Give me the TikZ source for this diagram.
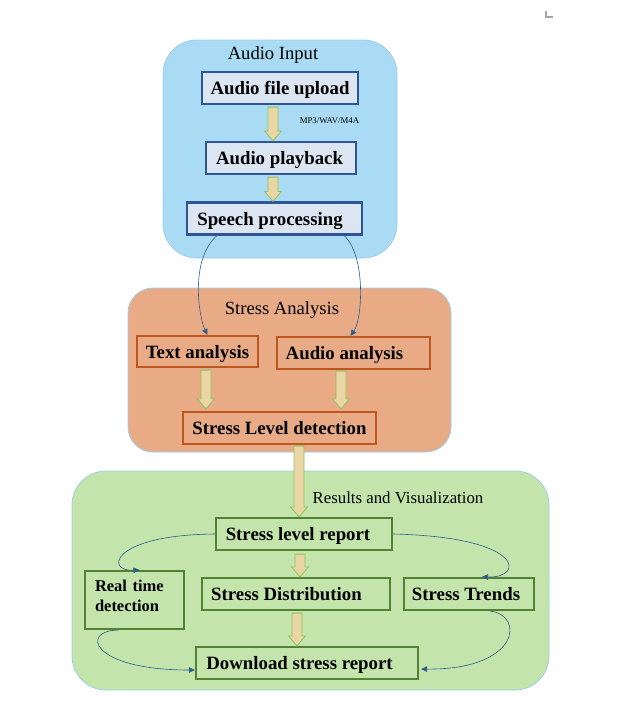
\documentclass[tikz,border=0pt]{standalone}
\usepackage{fontspec}
\setmainfont{Liberation Serif}
\usetikzlibrary{calc,arrows.meta}
\definecolor{cblue}{HTML}{A9DBF4}
\definecolor{cblueline}{HTML}{9CCFEA}
\definecolor{corange}{HTML}{E8AB86}
\definecolor{cgreen}{HTML}{C3E4AB}
\definecolor{nblue}{HTML}{DCE6F2}
\definecolor{bblue}{HTML}{2F5597}
\definecolor{borange}{HTML}{C0561F}
\definecolor{bgreen}{HTML}{548235}
\definecolor{arrfill}{HTML}{E9D6A4}
\definecolor{arrline}{HTML}{8DC460}
\definecolor{link}{HTML}{2E5E8C}
\tikzset{
  x=1pt,y=-1pt,
  box/.style={draw, line width=2.2pt, font=\bfseries\fontsize{18.8}{20}\selectfont, inner sep=0pt, minimum height=32pt, text height=15pt, text depth=2pt},
  bluebox/.style={box, draw=bblue, fill=nblue},
  orangebox/.style={box, draw=borange, fill=corange},
  greenbox/.style={box, draw=bgreen, fill=cgreen},
  title/.style={font=\fontsize{18.6}{20}\selectfont},
  barrow/.style={draw=arrline, fill=arrfill, line width=0.8pt,
    to path={let \p1=(\tikztostart), \p2=(\tikztotarget) in
      (\x1-5pt,\y1) -- (\x1+5pt,\y1) -- (\x1+5pt,\y2+10pt) -- (\x1+8.5pt,\y2+10pt)
      -- (\x1,\y2) -- (\x1-8.5pt,\y2+10pt) -- (\x1-5pt,\y2+10pt) -- cycle}},
  link/.style={draw=link, line width=0.6pt, -{Triangle[length=6pt,width=5.5pt]}}
}
\begin{document}
\begin{tikzpicture}
\useasboundingbox (0,0) rectangle (622,726);
\fill[white] (0,0) rectangle (622,726);
% corner mark
\draw[gray!70, line width=1.5pt] (546,11) -- (546,17) -- (553,17);
% containers
\draw[fill=cblue, draw=cblueline, line width=0.8pt, rounded corners=34pt] (163,40) rectangle (397,258);
\draw[fill=corange, draw=cblueline, line width=0.8pt, rounded corners=25pt] (128,288) rectangle (451,452);
\draw[fill=cgreen, draw=cblueline, line width=0.8pt, rounded corners=34pt] (72,471) rectangle (549,690);
% titles
\node[title] (tin) at (273,55) {Audio Input};
\node[title] (tsa) at (282,310) {Stress Analysis};
\node[font=\fontsize{16.8}{18}\selectfont] (trv) at (398,498) {Results and Visualization};
% blue nodes
\node[bluebox, minimum width=156pt] (up) at (280,88) {Audio file upload};
\node[bluebox, minimum width=150pt] (pb) at (281,158) {Audio playback\hspace*{3pt}};
\node[bluebox, minimum width=175pt] (sp) at (274.5,218.5) {Speech processing\hspace*{9pt}};
\node[font=\fontsize{8.8}{9}\selectfont] (fmt) at (329.5,121) {MP3/WAV/M4A};
% orange nodes
\node[orangebox, minimum width=121pt, minimum height=31pt] (ta) at (197.5,351.5) {Text analysis};
\node[orangebox, minimum width=153pt] (aa) at (353.5,353) {Audio analysis\hspace*{18pt}};
\node[orangebox, minimum width=193pt] (sld) at (279.5,428) {Stress Level detection};
% green nodes
\node[greenbox, minimum width=176pt] (srl) at (304,534) {Stress level report\hspace*{12pt}};
\node[greenbox, minimum width=99pt, minimum height=58pt, align=left, text width=79pt, inner xsep=10pt, text height=12pt, text depth=30pt, font=\bfseries\fontsize{16.5}{20}\selectfont] (rt) at (134.5,600) {Real time\\detection};
\node[greenbox, minimum width=188pt] (sd) at (296,594) {Stress Distribution\hspace*{19pt}};
\node[greenbox, minimum width=130pt] (st) at (469,594) {Stress Trends\hspace*{6pt}};
\node[greenbox, minimum width=222pt] (dl) at (307,663) {Download stress report\hspace*{15pt}};
% block arrows
\path[barrow] (273,0 |- up.south) ++(0,2) to (273,0 |- pb.north);
\path[barrow] (273,0 |- pb.south) ++(0,2) to (273,0 |- sp.north);
\path[barrow] (206,0 |- ta.south) ++(0,2) to ($(206,0 |- sld.north)+(0,-2)$);
\path[barrow] (341,0 |- aa.south) ++(0,1) to ($(341,0 |- sld.north)+(0,-2)$);
\path[barrow] (299,0 |- sld.south) ++(0,1) to (299,0 |- srl.north);
\path[barrow] (300,0 |- srl.south) ++(0,3) to (300,0 |- sd.north);
\path[barrow] (297,0 |- sd.south) ++(0,2) to (297,0 |- dl.north);
% thin curved links
\draw[link] ($(sp.south west)+(31,0)$) .. controls +(-28,25) and +(-8,-16) .. ($(ta.north)+(10,0)$);
\draw[link] ($(sp.south east)+(-19,0)$) .. controls +(22,20) and +(12,-17) .. ($(aa.north)+(-3,0)$);
\draw[link] (srl.west) .. controls (110,535) and (105,572) .. ($(rt.north)+(5,0)$);
\draw[link] (srl.east) .. controls (525,537) and (525,578) .. ($(st.north)+(13,0)$);
\draw[link] ($(rt.south)+(-16,0)$) .. controls (80,630) and (90,670) .. ($(dl.west)+(0,7)$);
\draw[link] ($(st.south)+(21,0)$) .. controls (525,615) and (520,670) .. ($(dl.east)+(2,6)$);
\end{tikzpicture}
\end{document}
